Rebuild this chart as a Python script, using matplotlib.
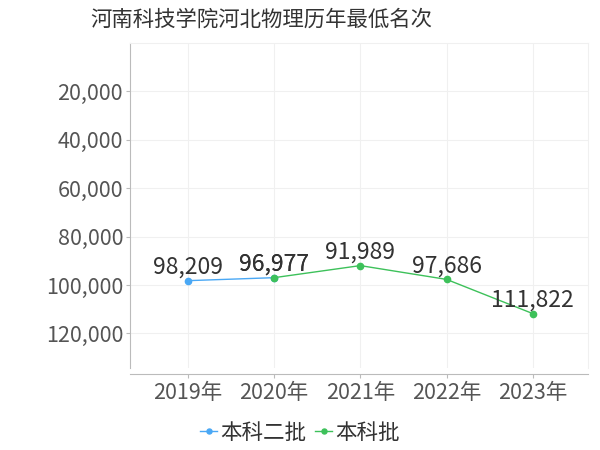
import matplotlib
matplotlib.use("Agg")
import matplotlib.pyplot as plt
from matplotlib.ticker import FuncFormatter

plt.rcParams['font.family'] = ['Noto Sans CJK SC', 'DejaVu Sans']

title = "河南科技学院河北物理历年最低名次"
years = ["2019年", "2020年", "2021年", "2022年", "2023年"]
s1_name = "本科二批"
s1_idx = [0, 1]
s1_vals = [98209, 96977]
s2_name = "本科批"
s2_idx = [1, 2, 3, 4]
s2_vals = [96977, 91989, 97686, 111822]
yticks = [20000, 40000, 60000, 80000, 100000, 120000]

c1 = "#4aa8f5"
c2 = "#3dc15a"

fig = plt.figure(figsize=(6, 4.5), dpi=100)
ax = fig.add_axes([130/600, 1-368/450, (588-130)/600, (368-43)/450])

ax.plot(s1_idx, s1_vals, color=c1, lw=1.0, marker='o', ms=4.5, label=s1_name, zorder=3)
ax.plot(s2_idx, s2_vals, color=c2, lw=1.0, marker='o', ms=4.5, label=s2_name, zorder=3)

for xs, vs in ((s1_idx, s1_vals), (s2_idx, s2_vals)):
    for x, v in zip(xs, vs):
        ax.annotate(f"{v:,}", (x, v), xytext=(0, 9.5), textcoords='offset points',
                    ha='center', va='center', fontsize=16.5, color='#333333', zorder=4)

ax.set_xlim(-0.67, 4.64)
ax.set_ylim(134300, 0)
ax.set_yticks(yticks)
ax.yaxis.set_major_formatter(FuncFormatter(lambda v, p: f"{int(v):,}"))
ax.set_xticks(range(len(years)))
ax.set_xticklabels(years)

ax.grid(True, color='#f0f0f0', lw=0.8)
ax.set_axisbelow(True)
for s in ('top', 'right'):
    ax.spines[s].set_color('#f0f0f0')
    ax.spines[s].set_linewidth(0.8)
ax.spines['left'].set_color('#bbbbbb')
ax.spines['bottom'].set_color('#bbbbbb')
ax.spines['bottom'].set_position(('outward', 4))
ax.tick_params(axis='both', colors='#bbbbbb', length=3, labelsize=15.5, labelcolor='#555555')
ax.tick_params(axis='x', pad=3)
ax.tick_params(axis='y', pad=2)

fig.text(261/600, 1-20/450, title, ha='center', va='center', fontsize=15.4, color='#333333')

leg = fig.legend(loc='center', bbox_to_anchor=(300/600, 1-433/450), ncol=2, frameon=False,
                 fontsize=15.5, handlelength=0.8, handletextpad=0.15, columnspacing=0.4,
                 labelcolor='#333333', markerscale=0.8)

fig.savefig("out.png", dpi=100)
